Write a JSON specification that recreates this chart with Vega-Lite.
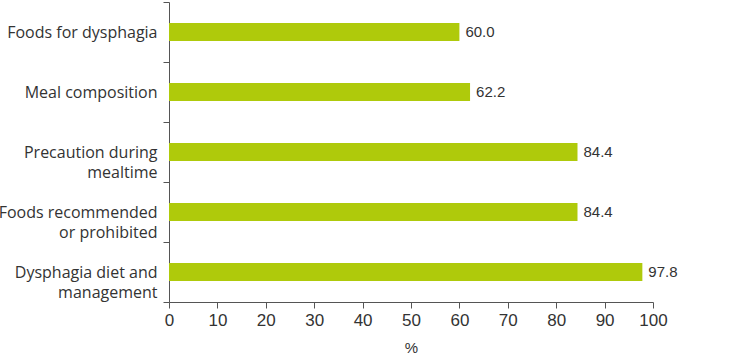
{
  "$schema": "https://vega.github.io/schema/vega-lite/v6.json",
  "width": 484,
  "height": 300,
  "autosize": {"type": "none"},
  "padding": {"left": 169, "top": 2, "right": 76, "bottom": 56},
  "background": "white",
  "config": {"view": {"stroke": null}},
  "data": {
    "values": [
      {"item": "Foods for dysphagia", "pct": 60.0},
      {"item": "Meal composition", "pct": 62.2},
      {"item": "Precaution during|mealtime", "pct": 84.4},
      {"item": "Foods recommended|or prohibited", "pct": 84.4},
      {"item": "Dysphagia diet and|management", "pct": 97.8}
    ]
  },
  "encoding": {
    "y": {
      "field": "item",
      "type": "nominal",
      "sort": null,
      "scale": {"paddingInner": 0, "paddingOuter": 0},
      "axis": {
        "title": null,
        "labelExpr": "split(datum.label, '|')",
        "labelFont": "Open Sans",
        "labelFontSize": 16,
        "labelLineHeight": 20,
        "labelColor": "#333333",
        "labelPadding": 6,
        "tickBand": "extent",
        "tickSize": 6,
        "tickColor": "#555555",
        "domainColor": "#555555",
        "grid": false
      }
    },
    "x": {
      "field": "pct",
      "type": "quantitative",
      "scale": {"domain": [0, 100], "nice": false},
      "axis": {
        "title": "%",
        "titleFont": "Liberation Sans",
        "titleFontSize": 15,
        "titleFontWeight": "normal",
        "titleColor": "#333333",
        "titlePadding": 12,
        "values": [0, 10, 20, 30, 40, 50, 60, 70, 80, 90, 100],
        "labelFlush": false,
        "labelOverlap": false,
        "labelFont": "Liberation Sans",
        "labelFontSize": 17,
        "labelColor": "#333333",
        "labelPadding": 4,
        "tickSize": 6,
        "tickColor": "#555555",
        "domainColor": "#555555",
        "grid": false
      }
    }
  },
  "layer": [
    {"mark": {"type": "bar", "color": "#afca0b", "height": {"band": 0.3}}},
    {
      "mark": {"type": "text", "align": "left", "dx": 6, "font": "Liberation Sans", "fontSize": 15, "color": "#333333"},
      "encoding": {"text": {"field": "pct", "type": "quantitative", "format": ".1f"}}
    }
  ]
}
